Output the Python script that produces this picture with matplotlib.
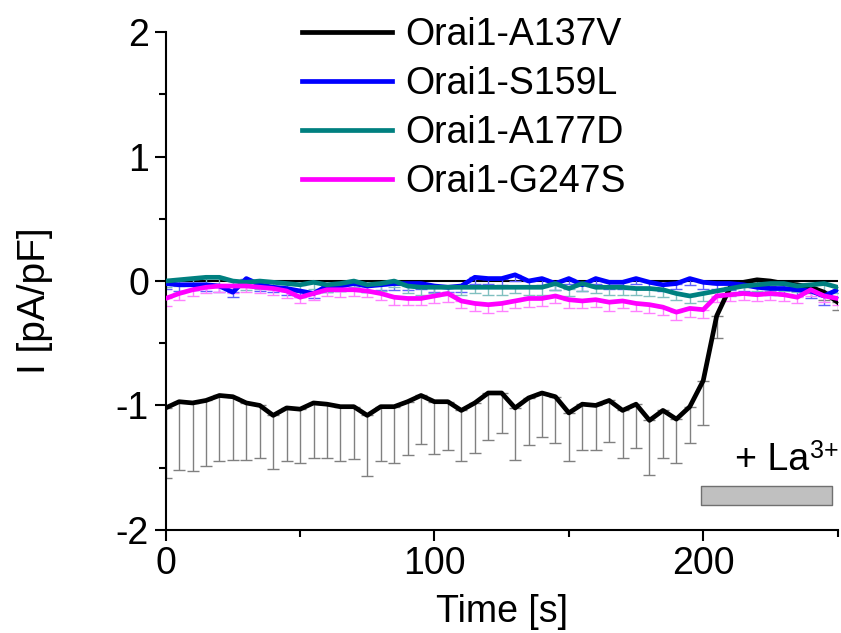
import numpy as np
import matplotlib.pyplot as plt

plt.rcParams['font.family'] = ['Liberation Sans', 'DejaVu Sans']
plt.rcParams['axes.unicode_minus'] = False

# time points, every 5 s
time = np.arange(0, 251, 5)

a137v = [-1.02, -0.97, -0.98, -0.96, -0.92, -0.93, -0.98, -1.00, -1.08, -1.02,
         -1.03, -0.98, -0.99, -1.01, -1.01, -1.08, -1.01, -1.01, -0.97, -0.92,
         -0.97, -0.97, -1.04, -0.98, -0.90, -0.90, -1.02, -0.94, -0.90, -0.93,
         -1.06, -0.99, -1.00, -0.96, -1.04, -0.99, -1.12, -1.04, -1.11, -1.01,
         -0.80, -0.28, -0.05, -0.01, 0.01, 0.00, -0.02, -0.03, -0.05, -0.09, -0.17]
a137v_sem = [0.56, 0.55, 0.55, 0.53, 0.53, 0.51, 0.46, 0.42, 0.43, 0.43,
             0.43, 0.44, 0.43, 0.44, 0.42, 0.49, 0.44, 0.45, 0.43, 0.39,
             0.42, 0.39, 0.41, 0.40, 0.38, 0.32, 0.42, 0.38, 0.35, 0.37,
             0.39, 0.37, 0.36, 0.33, 0.38, 0.35, 0.44, 0.38, 0.35, 0.29,
             0.36, 0.18, 0.05, 0.04, 0.04, 0.04, 0.04, 0.05, 0.05, 0.06, 0.06]

s159l = [-0.02, -0.03, -0.03, -0.03, -0.04, -0.09, 0.02, -0.03, -0.05, -0.06,
         -0.08, -0.10, -0.04, -0.04, -0.02, -0.04, -0.03, -0.02, -0.02, -0.02,
         -0.04, -0.05, -0.04, 0.03, 0.02, 0.02, 0.05, 0.00, 0.02, -0.02,
         0.02, -0.03, 0.02, -0.01, -0.01, 0.02, -0.01, -0.03, -0.02, 0.02,
         -0.01, -0.02, -0.02, -0.03, -0.05, -0.06, -0.06, -0.07, -0.08, -0.12, -0.07]
s159l_sem = [0.04, 0.05, 0.04, 0.05, 0.05, 0.04, 0.05, 0.05, 0.04, 0.05,
             0.05, 0.04, 0.05, 0.04, 0.05, 0.05, 0.04, 0.05, 0.05, 0.04,
             0.05, 0.04, 0.05, 0.05, 0.04, 0.05, 0.05, 0.04, 0.05, 0.05,
             0.04, 0.05, 0.04, 0.05, 0.05, 0.04, 0.05, 0.05, 0.04, 0.05,
             0.05, 0.04, 0.05, 0.05, 0.04, 0.05, 0.05, 0.05, 0.06, 0.07, 0.06]

a177d = [0.00, 0.01, 0.02, 0.03, 0.03, 0.00, -0.01, 0.00, -0.01, -0.02,
         -0.03, -0.01, -0.03, -0.02, 0.00, -0.03, -0.02, 0.00, -0.04, -0.05,
         -0.05, -0.05, -0.05, -0.05, -0.05, -0.05, -0.05, -0.05, -0.05, -0.02,
         -0.06, -0.02, -0.05, -0.05, -0.05, -0.06, -0.06, -0.07, -0.10, -0.12,
         -0.10, -0.08, -0.06, -0.04, -0.03, -0.02, -0.02, -0.04, -0.03, -0.02, -0.05]
a177d_sem = [0.05, 0.05, 0.05, 0.06, 0.06, 0.05, 0.06, 0.06, 0.05, 0.06,
             0.06, 0.05, 0.06, 0.06, 0.05, 0.06, 0.06, 0.05, 0.06, 0.06,
             0.05, 0.06, 0.06, 0.05, 0.06, 0.06, 0.05, 0.06, 0.06, 0.05,
             0.06, 0.06, 0.05, 0.06, 0.06, 0.05, 0.06, 0.06, 0.05, 0.06,
             0.06, 0.05, 0.06, 0.06, 0.05, 0.06, 0.06, 0.05, 0.06, 0.06, 0.05]

g247s = [-0.14, -0.10, -0.07, -0.05, -0.04, -0.04, -0.04, -0.05, -0.06, -0.08,
         -0.13, -0.10, -0.07, -0.07, -0.07, -0.08, -0.10, -0.13, -0.14, -0.14,
         -0.12, -0.10, -0.16, -0.18, -0.19, -0.18, -0.16, -0.14, -0.14, -0.12,
         -0.15, -0.16, -0.15, -0.17, -0.16, -0.18, -0.19, -0.21, -0.25, -0.22,
         -0.23, -0.12, -0.11, -0.10, -0.11, -0.10, -0.11, -0.13, -0.07, -0.12, -0.14]
g247s_sem = [0.06, 0.05, 0.05, 0.05, 0.05, 0.06, 0.05, 0.05, 0.05, 0.06,
             0.05, 0.05, 0.05, 0.06, 0.05, 0.05, 0.05, 0.06, 0.05, 0.05,
             0.06, 0.07, 0.06, 0.06, 0.07, 0.06, 0.06, 0.07, 0.06, 0.06,
             0.07, 0.06, 0.06, 0.07, 0.06, 0.06, 0.07, 0.06, 0.06, 0.07,
             0.07, 0.05, 0.05, 0.05, 0.05, 0.05, 0.05, 0.05, 0.05, 0.05, 0.05]

series = [
    ('Orai1-A137V', a137v, a137v_sem, 'black', '#808080'),
    ('Orai1-S159L', s159l, s159l_sem, '#0000ff', '#6060ff'),
    ('Orai1-A177D', a177d, a177d_sem, '#008080', '#80c0c0'),
    ('Orai1-G247S', g247s, g247s_sem, '#ff00ff', '#ff80ff'),
]

la_start, la_end = 199, 248
la_low, la_high = -1.80, -1.65

fig = plt.figure(figsize=(8.41, 6.33), dpi=100)
ax = fig.add_axes([0.197, 0.163, 0.799, 0.786])

ax.axhline(0, color='black', lw=1.5, zorder=1)

for name, y, sem, col, ecol in series:
    y = np.array(y)
    sem = np.array(sem)
    ax.errorbar(time, y, yerr=[sem, np.zeros_like(sem)], fmt='none',
                ecolor=ecol, elinewidth=1.0, capsize=4, capthick=1.0, zorder=2)
for name, y, sem, col, ecol in series:
    ax.plot(time, y, color=col, lw=3.4, label=name, zorder=3,
            solid_joinstyle='round')

ax.fill_between([la_start, la_end], la_low, la_high, facecolor='#c0c0c0',
                edgecolor='#707070', lw=1.0, zorder=2)
t_la = ax.text(212, -1.52, '+ La', fontsize=27, ha='left', va='baseline')
ax.annotate('3+', xy=(1, 1), xycoords=t_la, xytext=(0.5, 2),
            textcoords='offset points', fontsize=18, ha='left', va='top',
            annotation_clip=False)

ax.set_xlim(0, 250)
ax.set_ylim(-2, 2)
ax.set_xticks([0, 100, 200])
ax.set_xticks([50, 150, 250], minor=True)
ax.set_yticks([-2, -1, 0, 1, 2])
ax.set_yticks([-1.5, -0.5, 0.5, 1.5], minor=True)
ax.tick_params(axis='both', which='major', direction='out', length=8,
               width=1.5, labelsize=27, pad=4)
ax.tick_params(axis='both', which='minor', direction='out', length=5,
               width=1.5)
for s in ['top', 'right']:
    ax.spines[s].set_visible(False)
for s in ['left', 'bottom']:
    ax.spines[s].set_linewidth(1.5)

ax.set_xlabel('Time [s]', fontsize=27, labelpad=8)
ax.set_ylabel('I [pA/pF]', fontsize=28)
ax.yaxis.set_label_coords(-0.168, 0.46)

ax.legend(loc='upper left', bbox_to_anchor=(0.18, 1.06), frameon=False,
          fontsize=27, handlelength=2.4, handletextpad=0.35,
          labelspacing=0.34, borderaxespad=0)

fig.savefig('out.png', dpi=100)
